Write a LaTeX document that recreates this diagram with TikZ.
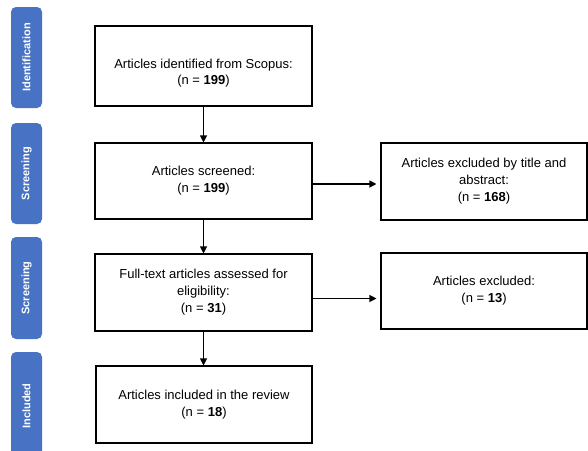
\documentclass[tikz,border=0pt]{standalone}
\usepackage{fontspec}
\setmainfont{Liberation Sans}
\usetikzlibrary{arrows.meta}
\definecolor{stageblue}{RGB}{72,114,196}
\begin{document}
\begin{tikzpicture}[x=1pt,y=-1pt,
  box/.style={draw=black,line width=1.1pt,fill=white,align=center,inner sep=2pt,
    font=\fontsize{13}{17}\selectfont},
  stage/.style={fill=stageblue,rounded corners=5pt,rotate=90,text=white,
    font=\fontsize{11}{13}\selectfont\bfseries,minimum height=31pt,inner sep=0pt},
  arr/.style={line width=1.1pt,-{Triangle[length=7pt,width=7pt]}}]
\fill[white] (0,0) rectangle (588,450);
\useasboundingbox (0,0) rectangle (588,450);
% stage labels
\node[stage,minimum width=101pt] (s1) at (26.5,57.5) {Identification};
\node[stage,minimum width=101pt] (s2) at (26.5,173.5) {Screening};
\node[stage,minimum width=102pt] (s3) at (26.5,288) {Screening};
\node[stage,minimum width=108pt] (s4) at (26.5,406) {Included};
% boxes
\node[box,minimum width=217pt,minimum height=80pt] (b1) at (203.5,66) {};
\node[align=center,font=\fontsize{13}{16}\selectfont] (b1t) at (203.5,73) {Articles identified from Scopus:\\(n = \textbf{199})};
\node[box,minimum width=217pt,minimum height=76pt] (b2) at (203.5,181) {Articles screened:\\(n = \textbf{199})};
\node[box,minimum width=217pt,minimum height=77pt] (b3) at (203.5,292.5) {Full-text articles assessed for\\eligibility:\\(n = \textbf{31})};
\node[box,minimum width=216pt,minimum height=77pt] (b4) at (204,404.5) {Articles included in the review\\(n = \textbf{18})};
\node[box,minimum width=206pt,minimum height=77pt] (e1) at (484,181.5) {Articles excluded by title and\\abstract:\\(n = \textbf{168})};
\node[box,minimum width=206pt,minimum height=76pt] (e2) at (484,291) {Articles excluded:\\(n = \textbf{13})};
% connectors
\draw[arr] (b1.south) -- (b2.north);
\draw[arr] (b2.south) -- (b3.north);
\draw[arr] (b3.south) -- (b3.south |- b4.north);
\draw[arr,shorten >=4pt] ([yshift=-3pt]b2.east) -- ([yshift=-3pt]b2.east -| e1.west);
\draw[arr,shorten >=4pt] ([yshift=-6pt]b3.east) -- ([yshift=-6pt]b3.east -| e2.west);
\end{tikzpicture}
\end{document}
